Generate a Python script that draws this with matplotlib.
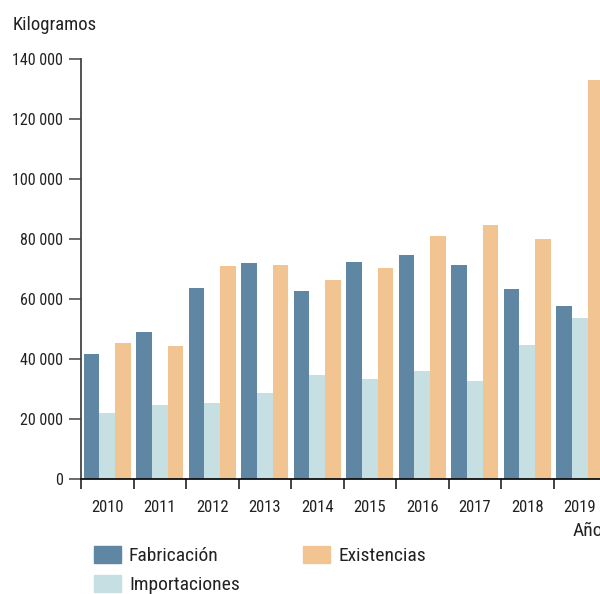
import numpy as np
import matplotlib
matplotlib.use("Agg")
import matplotlib.pyplot as plt
from matplotlib import font_manager
from matplotlib.patches import Patch

available = {f.name for f in font_manager.fontManager.ttflist}
family = next(n for n in ['Roboto Condensed', 'Archivo Narrow', 'DejaVu Sans'] if n in available)
plt.rcParams['font.family'] = [family, 'DejaVu Sans']

years = ['2010', '2011', '2012', '2013', '2014', '2015', '2016', '2017', '2018', '2019']
fabricacion = [41700, 49000, 63700, 72000, 62700, 72300, 74700, 71300, 63300, 57700]
importaciones = [22100, 24700, 25300, 28700, 34700, 33300, 36000, 32700, 44700, 53700]
existencias = [45300, 44300, 71000, 71300, 66300, 70300, 81000, 84700, 80000, 133000]
yticks = [0, 20000, 40000, 60000, 80000, 100000, 120000, 140000]

c_fab = '#5f86a3'
c_imp = '#c5dfe2'
c_exi = '#f2c491'
txt = '#222222'

fig = plt.figure(figsize=(6, 5.94), dpi=100)
# axes run past the right edge, so the last group is clipped
ax = fig.add_axes([81 / 600, 115 / 594, 525 / 600, 420 / 594])

x = np.arange(len(years))
w = 0.3
ax.bar(x - w, fabricacion, w, color=c_fab, label='Fabricación')
ax.bar(x, importaciones, w, color=c_imp, label='Importaciones')
ax.bar(x + w, existencias, w, color=c_exi, label='Existencias')

ax.set_xlim(-0.5, len(years) - 0.5)
ax.set_ylim(0, 140000)

for s in ['top', 'right']:
    ax.spines[s].set_visible(False)
ax.spines['left'].set_color('#444444')
ax.spines['left'].set_linewidth(1.3)
ax.spines['bottom'].set_color('#111111')
ax.spines['bottom'].set_linewidth(1.3)

ax.set_yticks(yticks)
ax.set_yticklabels([f'{v:,}'.replace(',', ' ') for v in yticks])
ax.tick_params(axis='y', length=9, width=1.1, color='#444444', pad=4,
               labelsize=11.5, labelcolor=txt)

ax.set_xticks(np.arange(len(years) + 1) - 0.5)
ax.set_xticklabels([])
ax.set_xticks(x, minor=True)
ax.set_xticklabels(years, minor=True)
ax.tick_params(axis='x', which='major', length=7, width=1.1, color='#111111')
ax.tick_params(axis='x', which='minor', length=0, pad=15, labelsize=12,
               labelcolor=txt)

fig.text(13 / 600, 1 - 25 / 594, 'Kilogramos', fontsize=13.5, color=txt,
         va='center', ha='left')
fig.text(573 / 600, 1 - 531 / 594, 'Año', fontsize=14, color=txt,
         va='center', ha='left')

handles = [Patch(color=c_fab, label='Fabricación'),
           Patch(color=c_imp, label='Importaciones'),
           Patch(color=c_exi, label='Existencias')]
fig.legend(handles=handles, ncol=2, loc='upper left',
           bbox_to_anchor=(94 / 600, 1 - 546 / 594), frameon=False,
           borderpad=0, borderaxespad=0,
           fontsize=14, handlelength=1.4, handleheight=0.95,
           handletextpad=0.4, labelspacing=0.5, columnspacing=3.25,
           labelcolor=txt)

fig.savefig('out.png', dpi=100)
